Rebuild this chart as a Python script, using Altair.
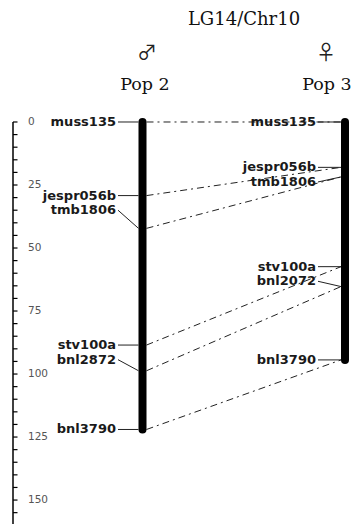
import altair as alt
import pandas as pd

# ---- data ----
title_text = "LG14/Chr10"
pop_names = ["Pop 2", "Pop 3"]
pop_symbols = ["\u2642", "\u2640"]

markers_pop2 = ["muss135", "jespr056b", "tmb1806", "stv100a", "bnl2872", "bnl3790"]
pos_pop2 = [0.0, 29.2, 42.2, 88.5, 98.7, 122.0]

markers_pop3 = ["muss135", "jespr056b", "tmb1806", "stv100a", "bnl2072", "bnl3790"]
pos_pop3 = [0.0, 18.0, 21.8, 57.4, 65.3, 94.4]

links_from = ["muss135", "jespr056b", "tmb1806", "stv100a", "bnl2872", "bnl3790"]
links_to = ["muss135", "jespr056b", "tmb1806", "stv100a", "bnl2072", "bnl3790"]

axis_minor_ticks = list(range(0, 160, 5))
axis_labels = [0, 25, 50, 75, 100, 125, 150]

# ---- layout / style ----
W, H = 353, 524
YSCALE = alt.Scale(domain=[-48.4, 159.5], range=[0, H])
LAYOUT = {
    "Pop 2": dict(bar_x=142.5, label_right=116, c1=118, c2=138.5, head_x=145, sym_x=147),
    "Pop 3": dict(bar_x=345, label_right=316, c1=318, c2=341, head_x=327, sym_x=326),
}
LINK_X1, LINK_X2 = 146.5, 341
AXIS_X = 13
LABEL_FONT = "DejaVu Sans"


def label_layout(positions, min_gap=14.0, step=5.8):
    out = []
    for i, p in enumerate(positions):
        if i > 0 and p - positions[i - 1] < min_gap:
            out.append(out[-1] + step)
        else:
            out.append(p)
    return out


layers = []

# axis
axis_df = pd.DataFrame({"start": [0], "end": [170]})
layers.append(
    alt.Chart(axis_df).mark_rule(color="black", strokeWidth=1.5).encode(
        x=alt.value(AXIS_X),
        y=alt.Y("start:Q", scale=YSCALE, axis=None),
        y2="end:Q",
    )
)
ticks_df = pd.DataFrame({"v": axis_minor_ticks})
layers.append(
    alt.Chart(ticks_df).mark_rule(color="black", strokeWidth=1.2).encode(
        x=alt.value(AXIS_X), x2=alt.value(AXIS_X + 4.5),
        y=alt.Y("v:Q", scale=YSCALE, axis=None),
    )
)
lab_df = pd.DataFrame({"v": axis_labels})
layers.append(
    alt.Chart(lab_df).mark_text(
        align="left", baseline="middle", font=LABEL_FONT, fontSize=10.5, color="#555"
    ).encode(
        x=alt.value(28),
        y=alt.Y("v:Q", scale=YSCALE, axis=None),
        text=alt.Text("v:Q"),
    )
)

# links between chromosomes
p2 = dict(zip(markers_pop2, pos_pop2))
p3 = dict(zip(markers_pop3, pos_pop3))
links_df = pd.DataFrame({
    "a": [p2[m] for m in links_from],
    "b": [p3[m] for m in links_to],
})
layers.append(
    alt.Chart(links_df).mark_rule(color="#222", strokeWidth=1, strokeDash=[7, 4, 2, 4]).encode(
        x=alt.value(LINK_X1), x2=alt.value(LINK_X2),
        y=alt.Y("a:Q", scale=YSCALE, axis=None),
        y2="b:Q",
    )
)

# chromosomes
for pop, markers, pos in [("Pop 2", markers_pop2, pos_pop2), ("Pop 3", markers_pop3, pos_pop3)]:
    L = LAYOUT[pop]
    df = pd.DataFrame({"marker": markers, "pos": pos, "lpos": label_layout(pos)})
    bar_df = pd.DataFrame({"start": [min(pos)], "end": [max(pos)]})
    layers.append(
        alt.Chart(bar_df).mark_rule(color="black", strokeWidth=8, strokeCap="round").encode(
            x=alt.value(L["bar_x"]),
            y=alt.Y("start:Q", scale=YSCALE, axis=None),
            y2="end:Q",
        )
    )
    layers.append(
        alt.Chart(df).mark_rule(color="#222", strokeWidth=1).encode(
            x=alt.value(L["c1"]), x2=alt.value(L["c2"]),
            y=alt.Y("lpos:Q", scale=YSCALE, axis=None),
            y2="pos:Q",
        )
    )
    layers.append(
        alt.Chart(df).mark_text(
            align="right", baseline="middle", font=LABEL_FONT, fontSize=13,
            fontWeight="bold", color="#1a1a1a",
        ).encode(
            x=alt.value(L["label_right"]),
            y=alt.Y("lpos:Q", scale=YSCALE, axis=None),
            text="marker:N",
        )
    )

# headings
def text_layer(txt, x, y, size, font, color="#111", weight="normal"):
    return alt.Chart(pd.DataFrame({"t": [txt]})).mark_text(
        align="center", baseline="alphabetic", font=font, fontSize=size, color=color,
        fontWeight=weight,
    ).encode(x=alt.value(x), y=alt.value(y), text="t:N")

layers.append(text_layer(title_text, 244, 25, 18, "DejaVu Serif"))
for name, sym in zip(pop_names, pop_symbols):
    L = LAYOUT[name]
    layers.append(text_layer(name, L["head_x"], 90, 17.5, "DejaVu Serif"))
    layers.append(text_layer(sym, L["sym_x"], 60, 20, "Noto Sans CJK JP", "#222", "normal"))

chart = alt.layer(*layers).properties(
    width=W, height=H, padding=0, autosize="none", background="white"
).configure_view(stroke=None)

chart.save("out.html", embed_options={"renderer": "svg", "actions": False})
